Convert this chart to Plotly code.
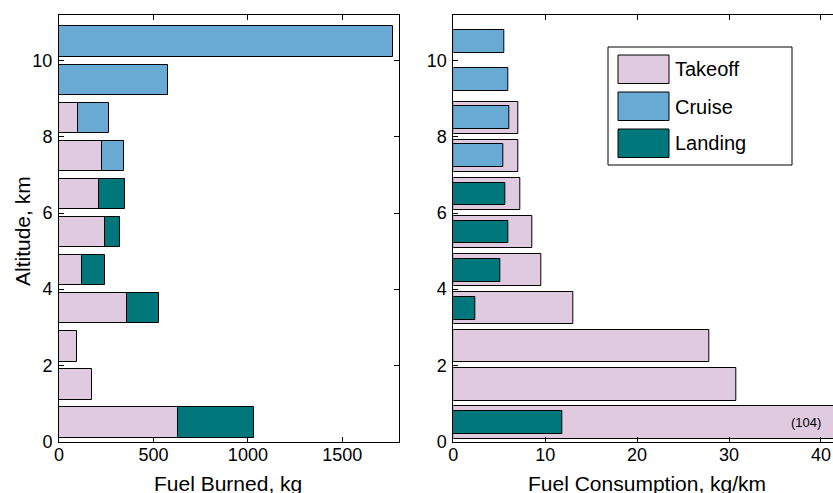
import plotly.graph_objects as go

W, H = 833, 493

# ---- data ----
altitude = [0.5, 1.5, 2.5, 3.5, 4.5, 5.5, 6.5, 7.5, 8.5, 9.5, 10.5]

takeoff_burned = [631, 173, 93, 360, 122, 243, 212, 226, 101, None, None]
landing_burned = [399, None, None, 171, 120, 80, 135, None, None, None, None]
cruise_burned = [None, None, None, None, None, None, None, 116, 165, 575, 1769]

takeoff_rate = [104, 30.8, 27.9, 13.1, 9.6, 8.6, 7.3, 7.1, 7.1, None, None]
landing_rate = [11.9, None, None, 2.4, 5.1, 6.0, 5.7, None, None, None, None]
cruise_rate = [None, None, None, None, None, None, None, 5.45, 6.1, 6.0, 5.55]

x_ticks_left = [0, 500, 1000, 1500]
x_ticks_right = [0, 10, 20, 30, 40]
y_ticks = [0, 2, 4, 6, 8, 10]

series_names = ["Takeoff", "Cruise", "Landing"]
colors = {"Takeoff": "#DFCAE0", "Cruise": "#68AAD4", "Landing": "#00777A"}

FONT = "Liberation Sans, Arial, Helvetica, sans-serif"


def px(x):
    return x / W


def py(y):
    return 1 - y / H


base_burn = [v if v is not None else 0 for v in takeoff_burned]

fig = go.Figure()
line = dict(color="black", width=1)

# left panel (stacked via base)
fig.add_trace(go.Bar(y=altitude, x=takeoff_burned, orientation="h", width=0.8,
                     marker=dict(color=colors["Takeoff"], line=line),
                     xaxis="x", yaxis="y", showlegend=False))
fig.add_trace(go.Bar(y=altitude, x=landing_burned, base=base_burn, orientation="h", width=0.8,
                     marker=dict(color=colors["Landing"], line=line),
                     xaxis="x", yaxis="y", showlegend=False))
fig.add_trace(go.Bar(y=altitude, x=cruise_burned, base=base_burn, orientation="h", width=0.8,
                     marker=dict(color=colors["Cruise"], line=line),
                     xaxis="x", yaxis="y", showlegend=False))

# right panel (overlay)
fig.add_trace(go.Bar(y=altitude, x=takeoff_rate, orientation="h", width=0.85,
                     marker=dict(color=colors["Takeoff"], line=line),
                     xaxis="x2", yaxis="y2", showlegend=False))
fig.add_trace(go.Bar(y=altitude, x=landing_rate, orientation="h", width=0.6,
                     marker=dict(color=colors["Landing"], line=line),
                     xaxis="x2", yaxis="y2", showlegend=False))
fig.add_trace(go.Bar(y=altitude, x=cruise_rate, orientation="h", width=0.6,
                     marker=dict(color=colors["Cruise"], line=line),
                     xaxis="x2", yaxis="y2", showlegend=False))

x0L, x1L = 59, 399
x0R, x1R = 453.3, 833
yT, yB = 15, 441.5

axis_common = dict(showline=True, linecolor="black", linewidth=1, ticks="inside",
                   ticklen=5, tickcolor="black", showgrid=False, zeroline=False,
                   automargin=False,
                   tickfont=dict(family=FONT, size=18, color="black"))

fig.update_layout(
    width=W, height=H,
    margin=dict(l=0, r=0, t=0, b=0, autoexpand=False),
    paper_bgcolor="white", plot_bgcolor="white",
    barmode="overlay",
    bargap=0,
    font=dict(family=FONT, color="black"),
    xaxis=dict(domain=[px(x0L), px(x1L)], range=[0, 1800], tickvals=x_ticks_left,
               mirror="ticks", anchor="y", ticklabelstandoff=-3, **axis_common),
    yaxis=dict(domain=[py(yB), py(yT)], range=[0, 11.2], tickvals=y_ticks,
               mirror="ticks", anchor="x", ticklabelstandoff=2, **axis_common),
    xaxis2=dict(domain=[px(x0R), px(x1R)], range=[0, (x1R - x0R) / 9.19], tickvals=x_ticks_right,
                mirror="ticks", anchor="y2", ticklabelstandoff=-3, **axis_common),
    yaxis2=dict(domain=[py(yB), py(yT)], range=[0, 11.2], tickvals=y_ticks,
                mirror=False, anchor="x2", ticklabelstandoff=2, **axis_common),
)

annotations = [
    dict(text="Fuel Burned, kg", x=px(228), y=py(483), xref="paper", yref="paper",
         showarrow=False, xanchor="center", yanchor="middle",
         font=dict(family=FONT, size=21, color="black")),
    dict(text="Fuel Consumption, kg/km", x=px(647), y=py(483), xref="paper", yref="paper",
         showarrow=False, xanchor="center", yanchor="middle",
         font=dict(family=FONT, size=21, color="black")),
    dict(text="Altitude, km", x=px(22), y=py(231), xref="paper", yref="paper",
         showarrow=False, xanchor="center", yanchor="middle", textangle=-90,
         font=dict(family=FONT, size=21, color="black")),
    dict(text=f"({takeoff_rate[0]})", x=38.4, y=altitude[0], xref="x2", yref="y2",
         showarrow=False, xanchor="center", yanchor="middle",
         font=dict(family=FONT, size=13, color="black")),
]

# custom legend with large swatches
shapes = [dict(type="rect", xref="paper", yref="paper",
               x0=px(608), x1=px(792), y0=py(165), y1=py(47),
               line=dict(color="black", width=1), fillcolor="white", layer="above")]
row_tops = [55, 92, 129]
for name, top in zip(series_names, row_tops):
    shapes.append(dict(type="rect", xref="paper", yref="paper",
                       x0=px(618), x1=px(669), y0=py(top + 28.5), y1=py(top),
                       line=dict(color="black", width=1), fillcolor=colors[name], layer="above"))
    annotations.append(dict(text=name, x=px(673), y=py(top + 14.5), xref="paper", yref="paper",
                            showarrow=False, xanchor="left", yanchor="middle",
                            font=dict(family=FONT, size=20, color="black")))

fig.update_layout(shapes=shapes, annotations=annotations)

fig.write_html("out.html", config={"displayModeBar": False},
               post_script="document.body.style.margin='0px';")
